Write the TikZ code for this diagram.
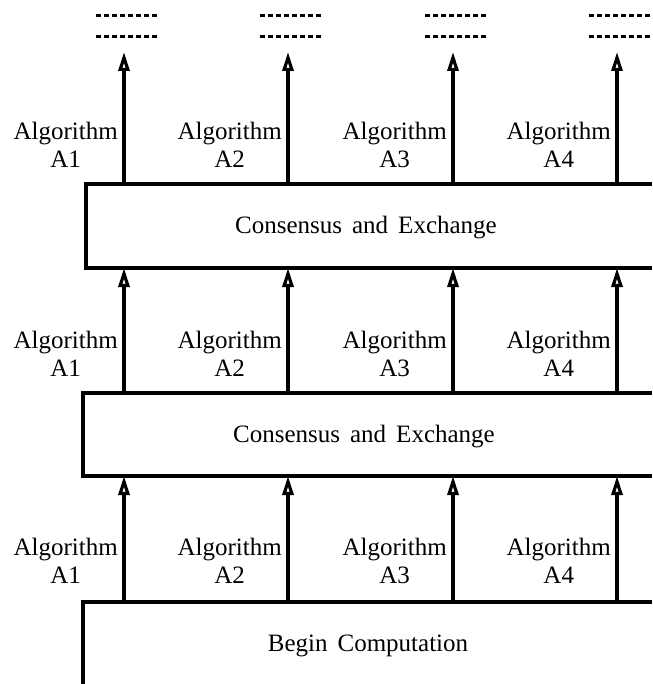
\documentclass[tikz,border=0pt]{standalone}
\usepackage{fontspec}
\setmainfont{Liberation Serif}[WordSpace=1.6]
\usetikzlibrary{arrows.meta}

\tikzset{
  flow/.style={line width=3.2pt, -{Triangle[open,length=19pt,width=11pt]}},
  frame/.style={line width=3.2pt},
  algo/.style={anchor=east, align=center, inner sep=0pt, font=\fontsize{25}{28}\selectfont},
  boxtext/.style={inner sep=0pt, font=\fontsize{25}{28}\selectfont},
  pending/.style={line width=3pt, dash pattern=on 5pt off 3pt}
}

\begin{document}
\begin{tikzpicture}[x=1pt, y=-1pt]
    \useasboundingbox (0,0) rectangle (652,684);

    % Begin Computation (open at the bottom and right)
    \draw[frame] (652,602) -- (83,602) -- (83,684);
    \node[boxtext] (begin) at (368,646) {Begin Computation};

    % lower Consensus and Exchange
    \draw[frame] (652,476) -- (83,476) -- (83,393) -- (652,393);
    \node[boxtext] (consA) at (364,437) {Consensus and Exchange};

    % upper Consensus and Exchange
    \draw[frame] (652,268) -- (86,268) -- (86,184) -- (652,184);
    \node[boxtext] (consB) at (366,228) {Consensus and Exchange};

    % one column per algorithm
    \foreach \i/\x in {1/124,2/288,3/453,4/617}{
        % first round
        \coordinate (start-\i) at (\x,602);
        \coordinate (intoA-\i) at (\x,476);
        \draw[flow] (start-\i) -- (intoA-\i);
        \node[algo] (algI-\i) at (\x-6,561) {Algorithm\\A\i};

        % second round
        \coordinate (outA-\i) at (\x,393);
        \coordinate (intoB-\i) at (\x,268);
        \draw[flow] (outA-\i) -- (intoB-\i);
        \node[algo] (algII-\i) at (\x-6,354) {Algorithm\\A\i};

        % third round
        \coordinate (outB-\i) at (\x,184);
        \coordinate (next-\i) at (\x,52);
        \draw[flow] (outB-\i) -- (next-\i);
        \node[algo] (algIII-\i) at (\x-6,145) {Algorithm\\A\i};

        % and so on
        \draw[pending] (\x-28,16) -- (\x+34,16);
        \draw[pending] (\x-28,37) -- (\x+34,37);
    }
\end{tikzpicture}
\end{document}
